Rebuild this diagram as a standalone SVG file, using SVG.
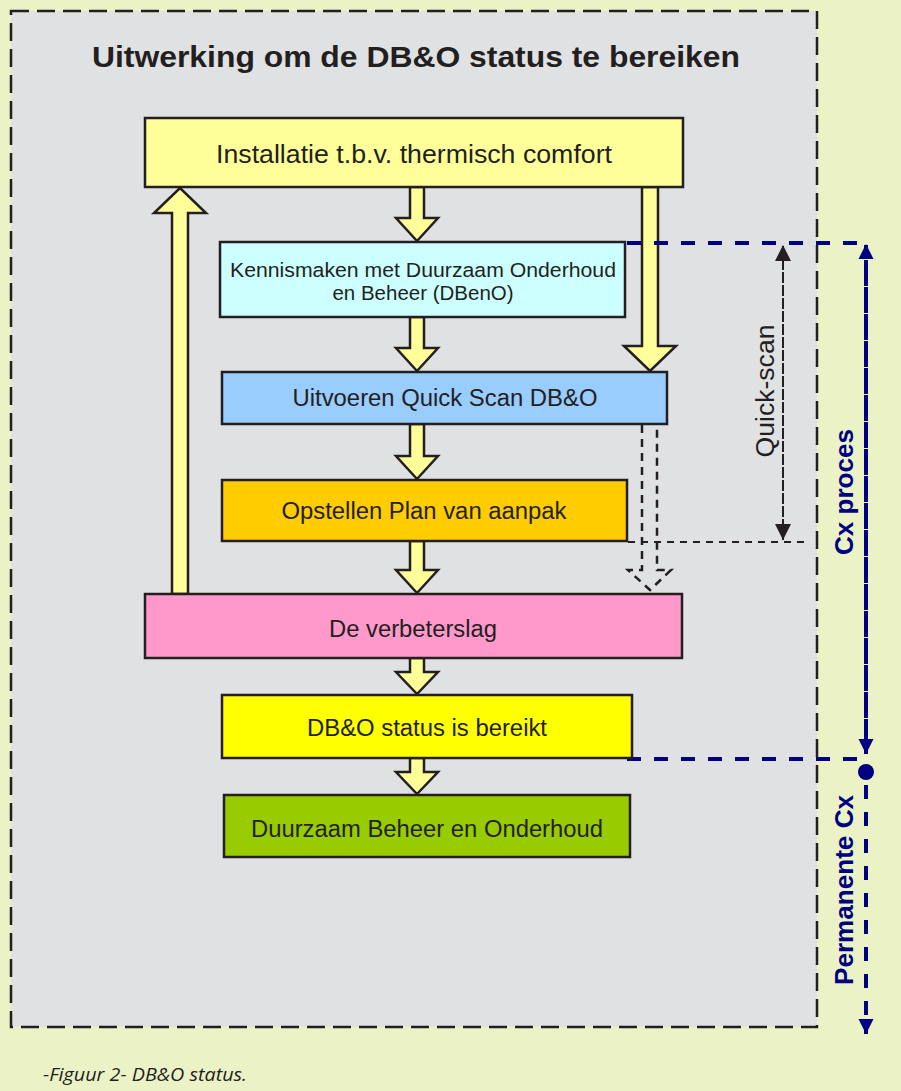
<svg xmlns="http://www.w3.org/2000/svg" width="901" height="1091" viewBox="0 0 901 1091">
<defs>
<style>
.box{stroke:#231f20;stroke-width:2.5}
.t{font-family:"Liberation Sans",Arial,sans-serif;fill:#231f20;text-anchor:middle}
.arr{fill:#ffff99;stroke:#231f20;stroke-width:2.5;stroke-linejoin:miter}
.blue{stroke:#000080;stroke-width:4;fill:none;stroke-dasharray:14 13}
.blk{stroke:#231f20;stroke-width:2;fill:none;stroke-dasharray:7 6}
.bt{font-family:"Liberation Sans",Arial,sans-serif;font-weight:bold;fill:#000080;text-anchor:middle;font-size:26px}
</style>
<marker id="bh" viewBox="0 0 10 10" refX="10" refY="5" markerWidth="3.8" markerHeight="3.8" orient="auto" markerUnits="strokeWidth"><path d="M0,0 L10,5 L0,10 z" fill="#000080"/></marker>
<marker id="kh" viewBox="0 0 10 10" refX="10" refY="5" markerWidth="8" markerHeight="8" orient="auto" markerUnits="strokeWidth"><path d="M0,0 L10,5 L0,10 z" fill="#231f20"/></marker>
</defs>
<rect x="0" y="0" width="901" height="1091" fill="#ebf2c6"/>
<rect x="11" y="11" width="806" height="1016" fill="#e0e1e3" stroke="#231f20" stroke-width="2.5" stroke-dasharray="18 8"/>
<text class="t" x="416" y="67" font-size="30" font-weight="bold" textLength="648" lengthAdjust="spacingAndGlyphs">Uitwerking om de DB&amp;O status te bereiken</text>

<g id="connectors">
<path class="arr" d="M410,187 L424,187 L424,218 L438,218 L417,241 L396,218 L410,218 Z"/>
<path class="arr" d="M410,317 L424,317 L424,348 L438,348 L417,371 L396,348 L410,348 Z"/>
<path class="arr" d="M410,424 L424,424 L424,456 L438,456 L417,479 L396,456 L410,456 Z"/>
<path class="arr" d="M410,541 L424,541 L424,570 L438,570 L417,593 L396,570 L410,570 Z"/>
<path class="arr" d="M410,658 L424,658 L424,672 L438,672 L417,694 L396,672 L410,672 Z"/>
<path class="arr" d="M410,758 L424,758 L424,772 L438,772 L417,794 L396,772 L410,772 Z"/>
<path class="arr" d="M172,594 L188,594 L188,213 L206,213 L180,188 L154,213 L172,213 Z"/>
<path class="arr" d="M642,187 L658,187 L658,346 L676,346 L650,371 L624,346 L642,346 Z"/>
<path d="M642,425 L642,570 L628,570 L650,590 L671,570 L657,570 L657,425" fill="none" stroke="#231f20" stroke-width="2.5" stroke-dasharray="8 6"/>
<line class="blk" x1="783" y1="539" x2="783" y2="245" marker-end="url(#kh)"/>
<line class="blk" x1="783" y1="250" x2="783" y2="540" marker-end="url(#kh)"/>
<line class="blk" x1="628" y1="542" x2="806" y2="542"/>
<line class="blue" x1="627" y1="243" x2="866" y2="243"/>
<line class="blue" x1="627" y1="759" x2="866" y2="759"/>
<line class="blue" x1="866" y1="745" x2="866" y2="244" marker-end="url(#bh)"/>
<line class="blue" x1="866" y1="260" x2="866" y2="754" marker-end="url(#bh)"/>
<line class="blue" x1="866" y1="785" x2="866" y2="1034" marker-end="url(#bh)"/>
<circle cx="866" cy="772" r="8" fill="#000080"/>
</g>

<g id="n1"><rect class="box" x="145" y="118" width="538" height="69" fill="#ffff99"/><text class="t" x="414" y="163" font-size="26" textLength="396" lengthAdjust="spacingAndGlyphs">Installatie t.b.v. thermisch comfort</text></g>
<g id="n2"><rect class="box" x="220" y="242" width="405" height="75" fill="#ccffff"/><text class="t" x="423" y="277" font-size="20.5" textLength="386" lengthAdjust="spacingAndGlyphs">Kennismaken met Duurzaam Onderhoud</text><text class="t" x="423" y="300" font-size="20.5">en Beheer (DBenO)</text></g>
<g id="n3"><rect class="box" x="222" y="372" width="445" height="52" fill="#99ccff"/><text class="t" x="445" y="406" font-size="23.5" textLength="305" lengthAdjust="spacingAndGlyphs">Uitvoeren Quick Scan DB&amp;O</text></g>
<g id="n4"><rect class="box" x="222" y="480" width="405" height="61" fill="#ffcc00"/><text class="t" x="424" y="519" font-size="23.5" textLength="285" lengthAdjust="spacingAndGlyphs">Opstellen Plan van aanpak</text></g>
<g id="n5"><rect class="box" x="145" y="594" width="537" height="64" fill="#ff99cc"/><text class="t" x="413" y="637" font-size="23.5" textLength="168" lengthAdjust="spacingAndGlyphs">De verbeterslag</text></g>
<g id="n6"><rect class="box" x="222" y="695" width="410" height="63" fill="#ffff00"/><text class="t" x="427" y="736" font-size="23.5" textLength="240" lengthAdjust="spacingAndGlyphs">DB&amp;O status is bereikt</text></g>
<g id="n7"><rect class="box" x="224" y="795" width="406" height="62" fill="#99cc00"/><text class="t" x="427" y="837" font-size="23.5" textLength="352" lengthAdjust="spacingAndGlyphs">Duurzaam Beheer en Onderhoud</text></g>

<text class="t" transform="translate(774,391) rotate(-90)" font-size="26" textLength="133" lengthAdjust="spacingAndGlyphs">Quick-scan</text>
<text class="bt" transform="translate(853,492) rotate(-90)" textLength="126" lengthAdjust="spacingAndGlyphs">Cx proces</text>
<text class="bt" transform="translate(853,890) rotate(-90)" textLength="190" lengthAdjust="spacingAndGlyphs">Permanente Cx</text>
<text x="43" y="1081" font-family="'Open Sans','Liberation Sans',sans-serif" font-style="italic" font-size="18" fill="#231f20" textLength="204" lengthAdjust="spacingAndGlyphs">-Figuur 2- DB&amp;O status.</text>
</svg>
